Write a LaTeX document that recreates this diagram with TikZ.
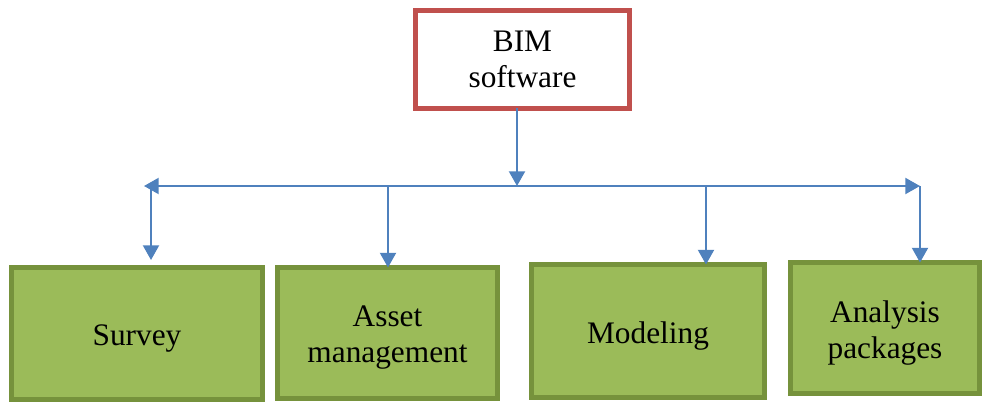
\documentclass[tikz,border=0pt]{standalone}
\usepackage{fontspec}
\setmainfont{Liberation Serif}
\usetikzlibrary{arrows.meta}
\definecolor{flowblue}{HTML}{4F81BD}
\definecolor{rootred}{HTML}{C0504D}
\definecolor{leaffill}{HTML}{9BBB59}
\definecolor{leafedge}{HTML}{76923C}
\tikzset{
  boxtext/.style={align=center, font=\fontsize{23.5}{27}\selectfont, inner sep=0pt, outer sep=0pt},
  rootbox/.style={boxtext, draw=rootred, line width=3.75pt, fill=white},
  leafbox/.style={draw=leafedge, line width=3.75pt, fill=leaffill, inner sep=0pt, outer sep=0pt},
  leaflabel/.style={boxtext, yshift=-3.75pt},
  flow/.style={draw=flowblue, line width=1.5pt},
  flowarrow/.style={flow, -{Triangle[length=11pt,width=12pt]}},
  flowboth/.style={flow, {Triangle[length=11pt,width=12pt]}-{Triangle[length=11pt,width=12pt]}},
}
\begin{document}
\begin{tikzpicture}[x=0.75pt, y=-0.75pt]
\useasboundingbox (0,0) rectangle (982,403);

% root
\node[rootbox, minimum width=160.5pt, minimum height=73.5pt] (bim) at (522.5,59.5) {BIM\\software};

% leaves
\node[leafbox, minimum width=188.25pt, minimum height=99pt] (survey) at (137,333.5) {};
\node[leafbox, minimum width=165pt, minimum height=98.25pt] (asset) at (387.5,333) {};
\node[leafbox, minimum width=174.75pt, minimum height=99.75pt] (model) at (648,331) {};
\node[leafbox, minimum width=141.75pt, minimum height=98.25pt] (analysis) at (885,328) {};
\node[leaflabel] (surveytext) at (survey.center) {Survey};
\node[leaflabel] (assettext) at (asset.center) {Asset\\management};
\node[leaflabel] (modeltext) at (model.center) {Modeling};
\node[leaflabel] (analysistext) at (analysis.center) {Analysis\\packages};

% bus points
\coordinate (hub) at (517,186);
\coordinate (busL) at (144,186);
\coordinate (busR) at (920,186);
\coordinate (d1) at (151,186);
\coordinate (d2) at (388,186);
\coordinate (d3) at (706,186);
\coordinate (d4) at (920,186);
\coordinate (e1) at (151,260);

% connectors
\draw[flowarrow] (hub |- bim.south) -- (hub);
\draw[flowboth] (busL) -- (busR);
\draw[flowarrow] (d1) -- (e1);
\draw[flowarrow] (d2) -- (d2 |- asset.north);
\draw[flowarrow] (d3) -- (d3 |- model.north);
\draw[flowarrow] (d4) -- (d4 |- analysis.north);
\end{tikzpicture}
\end{document}
